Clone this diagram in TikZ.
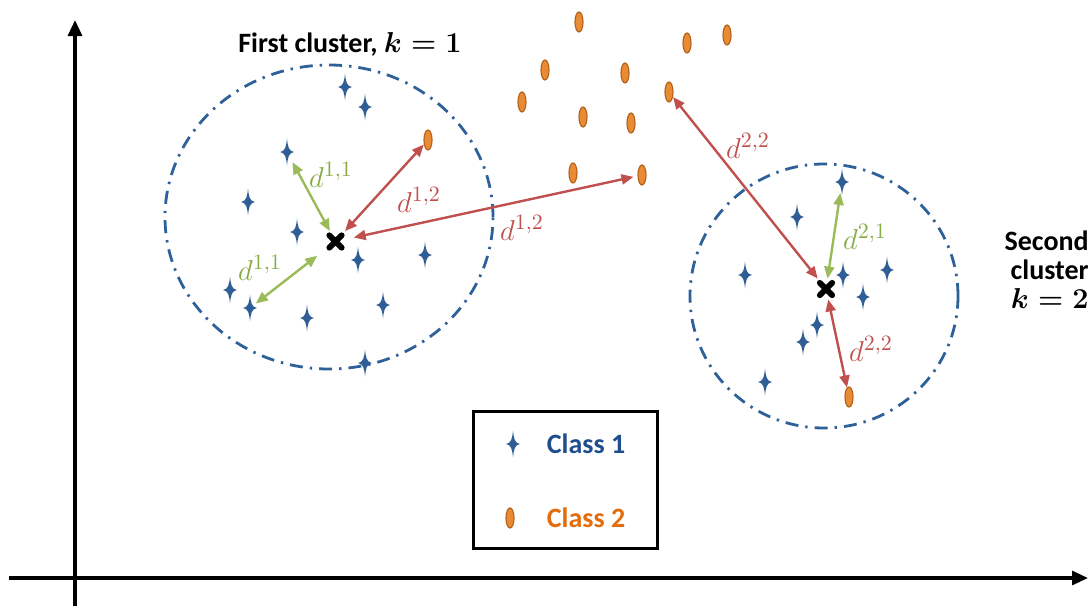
\documentclass[tikz,border=0pt]{standalone}
\usepackage{fontspec}
\setmainfont{Carlito}
\usetikzlibrary{arrows.meta,shapes.geometric}
\definecolor{cblue}{HTML}{2E6099}
\definecolor{sblue}{HTML}{2F5D95}
\definecolor{ored}{HTML}{C0504D}
\definecolor{ogreen}{HTML}{9BBB59}
\definecolor{lgreen}{HTML}{86AB45}
\definecolor{orfill}{HTML}{E98A35}
\definecolor{ordraw}{HTML}{B5651D}
\definecolor{ctexta}{HTML}{1F4E8C}
\definecolor{ctextb}{HTML}{E46C0A}
\tikzset{
  axisline/.style={line width=1.6pt, -{Triangle[length=8pt,width=7pt]}},
  clus/.style={cblue, line width=1.4pt, dash pattern=on 6.5pt off 3.5pt on 1.2pt off 3.5pt},
  starpt/.style={rectangle, minimum width=7pt, minimum height=13.6pt, inner sep=0pt,
    path picture={\fill[sblue, shift={(path picture bounding box.center)}]
      (0pt,6.7pt) .. controls (0.45pt,2.6pt) and (0.8pt,0.6pt) .. (3.4pt,0pt)
      .. controls (0.8pt,-0.6pt) and (0.45pt,-2.6pt) .. (0pt,-6.7pt)
      .. controls (-0.45pt,-2.6pt) and (-0.8pt,-0.6pt) .. (-3.4pt,0pt)
      .. controls (-0.8pt,0.6pt) and (-0.45pt,2.6pt) .. cycle;}},
  ovalpt/.style={ellipse, minimum width=4pt, minimum height=10pt, inner sep=0pt,
    fill=orfill, draw=ordraw, line width=0.6pt},
  centroid/.style={rectangle, minimum size=10pt, inner sep=0pt,
    path picture={\draw[black, line width=2.9pt, line cap=round, shift={(path picture bounding box.center)}]
      (-3.1pt,-3.1pt) -- (3.1pt,3.1pt) (-3.1pt,3.1pt) -- (3.1pt,-3.1pt);}},
  garrow/.style={ogreen, line width=1.2pt, {Triangle[length=6pt,width=5pt]}-{Triangle[length=6pt,width=5pt]}},
  rarrow/.style={ored, line width=1.2pt, {Triangle[length=6pt,width=5pt]}-{Triangle[length=6pt,width=5pt]}},
  glab/.style={lgreen, font=\fontsize{15.5}{18}\selectfont, inner sep=0pt},
  rlab/.style={ored, font=\fontsize{15.5}{18}\selectfont, inner sep=0pt},
  title/.style={font=\fontsize{14}{14.5}\selectfont\bfseries, inner sep=0pt},
}
\begin{document}
\begin{tikzpicture}[x=0.5pt,y=-0.5pt]
\useasboundingbox (0,0) rectangle (1091,611);
% axes
\coordinate (ybot) at (75,606);
\coordinate (ytop) at (75,20);
\coordinate (xl) at (9,578);
\coordinate (xr) at (1088,578);
\draw[axisline] (ybot) -- (ytop);
\draw[axisline] (xl) -- (xr);
% clusters
\draw[clus] (329,217) ellipse [x radius=82pt, y radius=76pt];
\draw[clus] (824,296) ellipse [x radius=67pt, y radius=66pt];
% labels
\node[title] (lab1) at (350,44) {First cluster, {\boldmath$k=1$}};
\node[title, anchor=east, align=right] (lab2) at (1089,270) {Second\\cluster\\{\boldmath$k=2$}};
% class 1 stars, cluster 1
\node[starpt] (s1) at (345,87) {};
\node[starpt] (s2) at (365,107) {};
\node[starpt] (s3) at (287,152) {};
\node[starpt] (s4) at (248,202) {};
\node[starpt] (s5) at (297,232) {};
\node[starpt] (s6) at (358,260) {};
\node[starpt] (s7) at (425,255) {};
\node[starpt] (s8) at (230,290) {};
\node[starpt] (s9) at (250,308) {};
\node[starpt] (s10) at (307,318) {};
\node[starpt] (s11) at (383,305) {};
\node[starpt] (s12) at (365,363) {};
% class 1 stars, cluster 2
\node[starpt] (t1) at (842,182) {};
\node[starpt] (t2) at (797,217) {};
\node[starpt] (t3) at (745,275) {};
\node[starpt] (t4) at (843,275) {};
\node[starpt] (t5) at (887,270) {};
\node[starpt] (t6) at (863,297) {};
\node[starpt] (t7) at (817,325) {};
\node[starpt] (t8) at (803,342) {};
\node[starpt] (t9) at (765,382) {};
% class 2 ovals
\node[ovalpt] (o1) at (579,22) {};
\node[ovalpt] (o2) at (545,70) {};
\node[ovalpt] (o3) at (625,73) {};
\node[ovalpt] (o4) at (687,43) {};
\node[ovalpt] (o5) at (727,35) {};
\node[ovalpt] (o6) at (669,92) {};
\node[ovalpt] (o7) at (522,102) {};
\node[ovalpt] (o8) at (583,117) {};
\node[ovalpt] (o9) at (631,123) {};
\node[ovalpt] (o10) at (573,173) {};
\node[ovalpt] (o11) at (642,175) {};
\node[ovalpt] (e1) at (428,140) {};
\node[ovalpt] (e2) at (849,397) {};
% centroids
\node[centroid] (c1) at (335.5,241.5) {};
\node[centroid] (c2) at (826,289) {};
% distance arrows
\draw[garrow, shorten <=-2pt] (s3) -- (c1);
\draw[garrow, shorten <=5pt, shorten >=-1pt] (c1) -- (s9);
\draw[rarrow] (c1) -- (e1);
\draw[rarrow, shorten <=4pt, shorten >=2pt] (c1) -- (o11);
\draw[rarrow] (o6) -- (c2);
\draw[garrow, shorten <=-1.5pt] (t1) -- (c2);
\draw[rarrow] (c2) -- (e2);
\node[glab] (d11a) at (331,175) {$d^{1,1}$};
\node[glab] (d11b) at (260,268) {$d^{1,1}$};
\node[rlab] (d12a) at (419,200) {$d^{1,2}$};
\node[rlab] (d12b) at (522,228) {$d^{1,2}$};
\node[rlab] (d22a) at (748,146) {$d^{2,2}$};
\node[glab] (d21) at (865,237) {$d^{2,1}$};
\node[rlab] (d22b) at (871,349) {$d^{2,2}$};
% legend
\node[draw, line width=1.5pt, minimum width=92pt, minimum height=68.5pt, inner sep=0pt] (leg) at (565,479.5) {};
\node[starpt] (ls) at (513,444) {};
\node[ovalpt] (lo) at (510,518) {};
\node[font=\fontsize{14}{16}\selectfont\bfseries, text=ctexta, inner sep=0pt] (lt1) at (586,444) {Class 1};
\node[font=\fontsize{14}{16}\selectfont\bfseries, text=ctextb, inner sep=0pt] (lt2) at (586,518) {Class 2};
\end{tikzpicture}
\end{document}
